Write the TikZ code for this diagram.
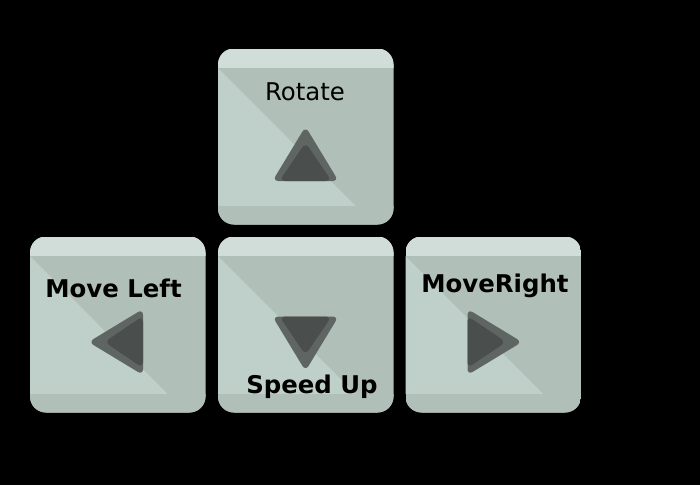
\documentclass[tikz,border=0pt]{standalone}
\usepackage{fontspec}
\setmainfont{DejaVu Sans}
\usepackage{tikz}
\usetikzlibrary{positioning, calc}

\definecolor{capTop}{HTML}{D0DDD8}
\definecolor{capDark}{HTML}{B0BFB8}
\definecolor{capLight}{HTML}{BFD0CA}
\definecolor{capLow}{HTML}{B0C0B8}
\definecolor{arrowOuter}{HTML}{5F6563}
\definecolor{arrowInner}{HTML}{4A4E4C}

\tikzset{
    keylabel/.style={font=\fontsize{24.4}{24}\selectfont, anchor=base, text=black, inner sep=0pt},
    keybold/.style={keylabel, font=\fontsize{24.4}{24}\selectfont\bfseries},
}

% one key, #1 = left edge, #2 = top edge, #3 = turn of the arrow, #4 = arrow centre y offset
\newcommand{\keycap}[4]{
    \begin{scope}[shift={(#1,#2)}]
        \begin{scope}
            \clip[rounded corners=16pt] (0,0) rectangle (175.5,176);
            \fill[capDark] (0,0) rectangle (175.5,176);
            \fill[capTop] (0,0) rectangle (175.5,19.5);
            \fill[capLight] (0,19.5) -- (137.5,157.5) -- (0,157.5) -- cycle;
            \fill[capLow] (0,157.5) rectangle (175.5,176);
        \end{scope}
        \begin{scope}[shift={(87.5,#4)}, rotate=#3]
            \fill[arrowOuter, rounded corners=6pt] (0,-29) -- (33,25.5) -- (-33,25.5) -- cycle;
            \fill[arrowInner, rounded corners=6pt] (0,-13) -- (26,25.5) -- (-26,25.5) -- cycle;
        \end{scope}
    \end{scope}
}

\begin{document}
\begin{tikzpicture}[x=1pt, y=-1pt]
    % Background
    \fill[black] (0,0) rectangle (700,485);
    \useasboundingbox (0,0) rectangle (700,485);

    % Keys
    \keycap{218}{48.5}{0}{107}
    \keycap{30}{236.5}{90}{105.5}
    \keycap{218}{236.5}{180}{105.5}
    \keycap{405.5}{236.5}{-90}{105.5}

    % Labels
    \node[keylabel] (rotate) at (305,100) {Rotate};
    \node[keybold] (moveleft) at (113.5,297) {Move Left};
    \node[keybold] (speedup) at (312,393.5) {Speed Up};
    \node[keybold] (moveright) at (495,292.5) {MoveRight};
\end{tikzpicture}
\end{document}
